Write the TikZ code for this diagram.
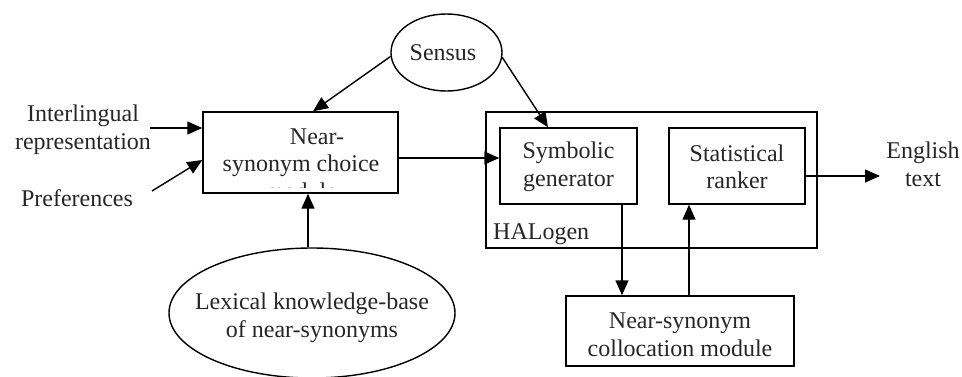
\documentclass[tikz,border=0pt]{standalone}
\usepackage{fontspec}
\setmainfont{Liberation Serif}
\usetikzlibrary{shapes.geometric,arrows.meta,calc}
\begin{document}
\begin{tikzpicture}[x=1pt,y=-1pt,
  every node/.style={font=\fontsize{24}{27.5}\selectfont, inner sep=0pt, align=center},
  box/.style={draw, line width=1.4pt, rectangle},
  oval/.style={draw, line width=1.4pt, ellipse},
  conn/.style={line width=1.4pt, -{Triangle[length=15pt,width=13pt]}},
  lbl/.style={text=black!85}]
\useasboundingbox (0,0) rectangle (962,376);
% ellipses
\node[oval, minimum width=111pt, minimum height=77pt] (sensus) at (446.5,52.5) {};
\node[lbl] (sensustxt) at (443,53) {Sensus};
\node[oval, minimum width=286pt, minimum height=130pt] (lex) at (312,313) {};
\node[lbl] (lextxt) at (312,318) {Lexical knowledge-base\\of near-synonyms};
% near-synonym choice module (text clipped by its box)
\node[box, minimum width=195pt, minimum height=81pt] (nsc) at (300.5,152.5) {};
\begin{scope}
  \clip ($(nsc.south west)+(1,-6)$) rectangle ($(nsc.north east)+(-1,1)$);
  \node[lbl] (nsctxt) at (301,164) {\hspace*{32pt}Near-\\synonym choice\\module};
\end{scope}
% HALogen
\node[box, minimum width=331pt, minimum height=136pt] (hal) at (651.5,180) {};
\node[lbl, anchor=west] (haltxt) at (493,234) {HALogen};
\node[box, minimum width=137pt, minimum height=76pt] (sym) at (568.5,166) {};
\node[lbl] (symtxt) at (568.5,167) {Symbolic\\generator};
\node[box, minimum width=136pt, minimum height=76pt] (rank) at (737,166) {};
\node[lbl] (ranktxt) at (737,167) {Statistical\\ranker};
\node[box, minimum width=228pt, minimum height=70pt] (coll) at (680,331) {};
\node[lbl] (colltxt) at (680,335) {Near-synonym\\collocation module};
% free labels
\node[lbl] (inter) at (83,129.5) {Interlingual\\representation};
\node[lbl] (pref) at (77,198) {Preferences};
\node[lbl] (eng) at (923,164.5) {English\\text};
% free connector ends
\coordinate (interE) at (150,128);
\coordinate (prefE) at (152,191);
\coordinate (engW) at (880,176);
% connectors
\draw[conn] (interE) -- (interE -| nsc.west);
\draw[conn] (prefE) -- ($(nsc.west)+(0,7.5)$);
\draw[conn] (sensus.-176) -- ($(nsc.north)+(12.5,0)$);
\draw[conn] (sensus.-5) -- ($(sym.north)+(-20.5,0)$);
\draw[conn] (lex.north -| 308,0) -- (nsc.south -| 308,0);
\draw[conn] ($(nsc.east)+(0,5.5)$) -- ($(sym.west)+(0,-8)$);
\draw[conn] (sym.south -| 622,0) -- (coll.north -| 622,0);
\draw[conn] (coll.north -| 689,0) -- (rank.south -| 689,0);
\draw[conn] ($(rank.east)+(0,10)$) -- (engW);
\end{tikzpicture}
\end{document}
